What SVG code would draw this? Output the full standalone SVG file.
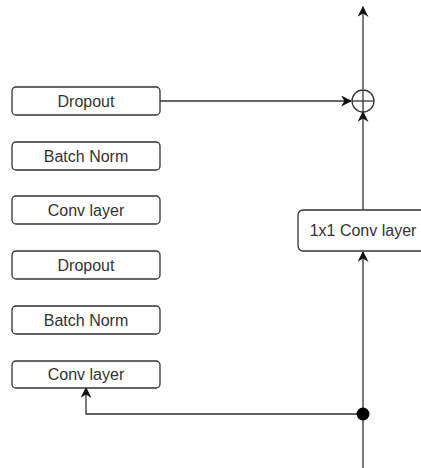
<svg xmlns="http://www.w3.org/2000/svg" width="421" height="468" viewBox="0 0 421 468">
<style>
.box{fill:#fff;stroke:#333;stroke-width:1.3}
.t{font-family:"Liberation Sans",Arial,sans-serif;font-size:16px;fill:#333;text-anchor:middle}
.ln{fill:none;stroke:#333;stroke-width:1.3}
</style>
<defs>
<marker id="ah" viewBox="0 0 10 10" refX="9" refY="5" markerWidth="11" markerHeight="11" markerUnits="userSpaceOnUse" orient="auto">
<path d="M0,0 L10,5 L0,10 L3,5 Z" fill="#111"/>
</marker>
</defs>
<g id="connectors">
<line class="ln" x1="363" y1="468" x2="363" y2="252" marker-end="url(#ah)"/>
<line class="ln" x1="363" y1="210" x2="363" y2="112" marker-end="url(#ah)"/>
<line class="ln" x1="363" y1="89" x2="363" y2="7" marker-end="url(#ah)"/>
<line class="ln" x1="160" y1="101" x2="351" y2="101" marker-end="url(#ah)"/>
<polyline class="ln" points="363,414 86,414 86,388" marker-end="url(#ah)"/>
<circle cx="363" cy="414" r="6.5" fill="#000"/>
</g>
<g id="sum">
<circle cx="363" cy="101" r="11" fill="none" stroke="#333" stroke-width="1.3"/>
<line class="ln" x1="352" y1="101" x2="374" y2="101"/>
<line class="ln" x1="363" y1="90" x2="363" y2="112"/>
</g>
<g id="dropout1"><rect class="box" x="12" y="87" width="148" height="28" rx="4"/><text class="t" x="86" y="107">Dropout</text></g>
<g id="batchnorm1"><rect class="box" x="12" y="142" width="148" height="28" rx="4"/><text class="t" x="86" y="162">Batch Norm</text></g>
<g id="conv1"><rect class="box" x="12" y="196" width="148" height="28" rx="4"/><text class="t" x="86" y="216">Conv layer</text></g>
<g id="dropout2"><rect class="box" x="12" y="251" width="148" height="28" rx="4"/><text class="t" x="86" y="271">Dropout</text></g>
<g id="batchnorm2"><rect class="box" x="12" y="306" width="148" height="28" rx="4"/><text class="t" x="86" y="326">Batch Norm</text></g>
<g id="conv2"><rect class="box" x="12" y="361" width="148" height="27" rx="4"/><text class="t" x="86" y="380">Conv layer</text></g>
<g id="conv1x1"><rect class="box" x="298" y="210" width="130" height="41" rx="5"/><text class="t" x="363" y="236">1x1 Conv layer</text></g>
</svg>
